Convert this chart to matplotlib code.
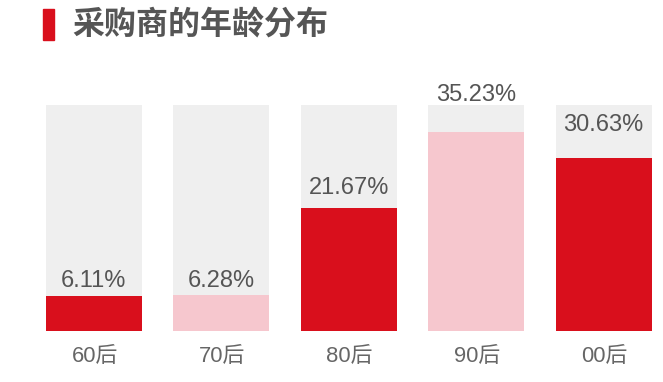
import matplotlib
matplotlib.use("Agg")
import matplotlib.pyplot as plt
import numpy as np

# data
categories = ["60后", "70后", "80后", "90后", "00后"]
values = [6.11, 6.28, 21.67, 35.23, 30.63]
background_max = 40.0
title = "采购商的年龄分布"

# style
bar_colors = ["#d90f1c", "#f6c7ce", "#d90f1c", "#f6c7ce", "#d90f1c"]
label_offsets_px = [9, 8, 14, 31, 27]
bg_color = "#efefef"
text_color = "#555555"
fonts = ["Liberation Sans", "Noto Sans CJK SC", "DejaVu Sans"]

W, H = 663, 382
fig = plt.figure(figsize=(W / 100, H / 100), dpi=100)

bw = 0.754
left_px, right_px = 45.7, 651.7
bottom_px, top_px = 330.8, 105.0
ax = fig.add_axes([left_px / W, (H - bottom_px) / H,
                   (right_px - left_px) / W, (bottom_px - top_px) / H])
x = np.arange(len(categories))
ax.bar(x, [background_max] * len(x), width=bw, color=bg_color, zorder=1)
ax.bar(x, values, width=bw, color=bar_colors, zorder=2)
ax.set_xlim(-bw / 2, len(x) - 1 + bw / 2)
ax.set_ylim(0, background_max)
ax.axis("off")

for xi, v, off in zip(x, values, label_offsets_px):
    ax.annotate(f"{v:.2f}%", (xi, v), xytext=(0, off), textcoords="offset pixels",
                ha="center", va="baseline", fontsize=17, color=text_color,
                family=fonts, zorder=3)

for xi, c in zip(x, categories):
    ax.annotate(c, (xi, 0), xytext=(1, -26), textcoords="offset pixels",
                ha="center", va="center", fontsize=15.8, color="#666666",
                family=fonts)

# title with red marker
fig.patches.append(plt.Rectangle((43 / W, (H - 40) / H), 11 / W, 31 / H,
                                 transform=fig.transFigure, color="#d90f1c"))
fig.text(72 / W, (H - 25) / H, title, fontsize=23, fontweight="bold",
         color=text_color, va="center", ha="left",
         family=["Noto Sans CJK SC", "DejaVu Sans"])

fig.savefig("out.png", dpi=100)
